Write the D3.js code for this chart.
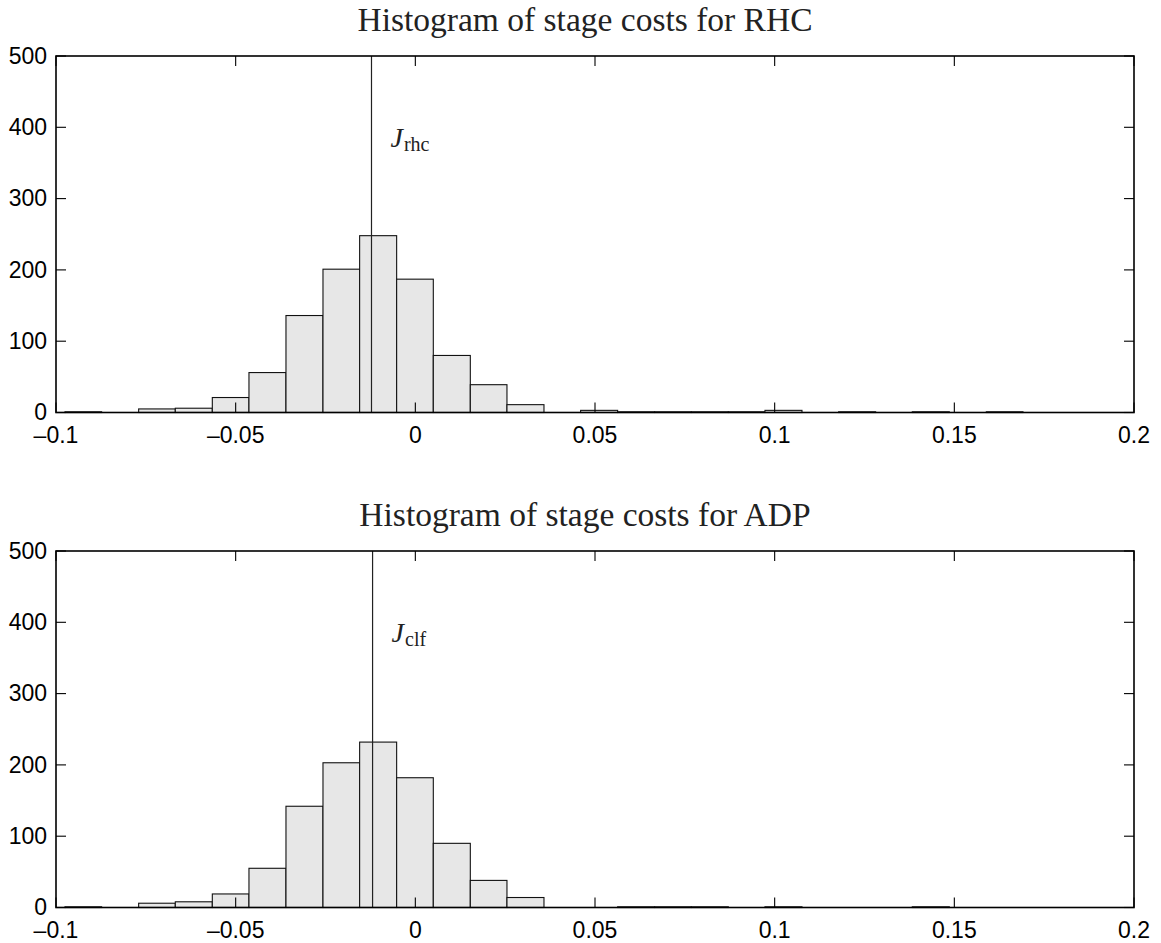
<!DOCTYPE html>
<html>
<head>
<meta charset="utf-8">
<script src="https://cdn.jsdelivr.net/npm/d3@7"></script>
<style>
  body { margin: 0; background: #fff; }
  svg { display: block; }
  .tick-label { font-family: "Liberation Sans", Arial, sans-serif; font-size: 23px; fill: #000; }
  .title { font-family: "Liberation Serif", "Times New Roman", serif; font-size: 33.5px; fill: #222; }
  .jlab { font-family: "Liberation Serif", "Times New Roman", serif; fill: #222; }
</style>
</head>
<body>
<div id="chart-area"></div>
<script>
// bin edges shared by both histograms (26 bins)
var binEdges = [-0.0975, -0.0873, -0.0770, -0.0668, -0.0565, -0.0463, -0.0360, -0.0257, -0.0155,
  -0.0052, 0.0050, 0.0153, 0.0255, 0.0358, 0.0460, 0.0563, 0.0666, 0.0768, 0.0871, 0.0973,
  0.1076, 0.1178, 0.1281, 0.1383, 0.1486, 0.1589, 0.1691];

// counts per bin
var rhcCounts = [1, 0, 5, 6, 21, 56, 136, 201, 248, 187, 80, 39, 11, 0, 3, 1, 1, 1, 1, 3, 0, 1, 0, 1, 0, 1];
var adpCounts = [1, 0, 6, 8, 19, 55, 142, 203, 232, 182, 90, 38, 14, 0, 0, 1, 1, 1, 0, 1, 0, 0, 0, 1, 0, 0];

// average cost markers
var jRhc = -0.0122;
var jClf = -0.0119;

var xTicks = [-0.1, -0.05, 0, 0.05, 0.1, 0.15, 0.2];
var xTickLabels = ["\u20130.1", "\u20130.05", "0", "0.05", "0.1", "0.15", "0.2"];
var yTicks = [0, 100, 200, 300, 400, 500];

var titles = ["Histogram of stage costs for RHC", "Histogram of stage costs for ADP"];
var jSubs = ["rhc", "clf"];

var W = 1161, H = 943;
var svg = d3.select("#chart-area").append("svg")
    .attr("width", W)
    .attr("height", H);

var left = 56, right = 1134, plotH = 356.5;
var tops = [56, 551];

var x = d3.scaleLinear().domain([-0.1, 0.2]).range([left, right]);

function drawPanel(top, counts, jVal, title, sub) {
    var y = d3.scaleLinear().domain([0, 500]).range([top + plotH, top]);
    var g = svg.append("g");

    g.append("text")
        .attr("class", "title")
        .attr("x", 585)
        .attr("y", top - 25)
        .attr("text-anchor", "middle")
        .text(title);

    var bins = counts.map(function(c, i){
        return { x0: binEdges[i], x1: binEdges[i + 1], n: c };
    });

    g.selectAll("rect.bar")
        .data(bins)
        .enter()
        .append("rect")
            .attr("class", "bar")
            .attr("x", function(d){ return x(d.x0); })
            .attr("width", function(d){ return x(d.x1) - x(d.x0); })
            .attr("y", function(d){ return y(d.n); })
            .attr("height", function(d){ return y(0) - y(d.n); })
            .attr("fill", "#e7e7e7")
            .attr("stroke", "#111")
            .attr("stroke-width", 1.1);

    // vertical marker line
    g.append("line")
        .attr("x1", x(jVal)).attr("x2", x(jVal))
        .attr("y1", y(0)).attr("y2", y(500))
        .attr("stroke", "#222")
        .attr("stroke-width", 1.2);

    var lab = g.append("text")
        .attr("class", "jlab")
        .attr("x", x(jVal) + 19)
        .attr("y", y(373));
    lab.append("tspan")
        .attr("font-style", "italic")
        .attr("font-size", "28px")
        .text("J");
    lab.append("tspan")
        .attr("font-size", "20px")
        .attr("dx", 1)
        .attr("dy", 4)
        .text(sub);

    // box
    g.append("rect")
        .attr("x", left).attr("y", top)
        .attr("width", right - left).attr("height", plotH)
        .attr("fill", "none")
        .attr("stroke", "#000")
        .attr("stroke-width", 1.6);

    var tl = 10;
    // x ticks, inward top and bottom
    xTicks.forEach(function(t, i){
        g.append("line")
            .attr("x1", x(t)).attr("x2", x(t))
            .attr("y1", y(0)).attr("y2", y(0) - tl)
            .attr("stroke", "#000").attr("stroke-width", 1.1);
        g.append("line")
            .attr("x1", x(t)).attr("x2", x(t))
            .attr("y1", y(500)).attr("y2", y(500) + tl)
            .attr("stroke", "#000").attr("stroke-width", 1.1);
        g.append("text")
            .attr("class", "tick-label")
            .attr("x", x(t))
            .attr("y", y(0) + 30)
            .attr("text-anchor", "middle")
            .text(xTickLabels[i]);
    });

    yTicks.forEach(function(t){
        g.append("line")
            .attr("x1", left).attr("x2", left + tl)
            .attr("y1", y(t)).attr("y2", y(t))
            .attr("stroke", "#000").attr("stroke-width", 1.1);
        g.append("line")
            .attr("x1", right).attr("x2", right - tl)
            .attr("y1", y(t)).attr("y2", y(t))
            .attr("stroke", "#000").attr("stroke-width", 1.1);
        g.append("text")
            .attr("class", "tick-label")
            .attr("x", left - 9)
            .attr("y", y(t))
            .attr("dy", "0.34em")
            .attr("text-anchor", "end")
            .text(t);
    });
}

drawPanel(tops[0], rhcCounts, jRhc, titles[0], jSubs[0]);
drawPanel(tops[1], adpCounts, jClf, titles[1], jSubs[1]);
</script>
</body>
</html>
